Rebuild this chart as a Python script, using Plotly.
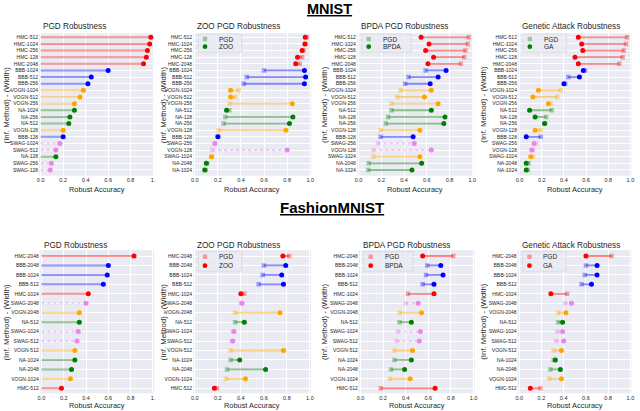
import plotly.graph_objects as go

W, H = 640, 411

# seaborn named colours used per method
method_rgb = {
    "HMC": (255, 0, 0),
    "BBB": (0, 0, 255),
    "VOGN": (255, 165, 0),
    "NA": (0, 128, 0),
    "SWAG": (238, 130, 238),
}

# ---------------- MNIST ----------------
mnist_pgd_labels = ["HMC-512", "HMC-1024", "HMC-256", "HMC-128", "HMC-2048",
                    "BBB-1024", "BBB-512", "BBB-256", "VOGN-1024", "VOGN-512",
                    "VOGN-256", "NA-1024", "NA-256", "NA-512", "VOGN-128",
                    "BBB-128", "SWAG-1024", "SWAG-512", "NA-128", "SWAG-256",
                    "SWAG-128"]
mnist_pgd_methods = ["HMC"] * 5 + ["BBB"] * 3 + ["VOGN"] * 3 + ["NA"] * 3 + \
    ["VOGN", "BBB", "SWAG", "SWAG", "NA", "SWAG", "SWAG"]
mnist_pgd_acc = [0.98, 0.97, 0.95, 0.94, 0.915, 0.60, 0.45, 0.42, 0.38, 0.35,
                 0.30, 0.30, 0.26, 0.25, 0.20, 0.20, 0.17, 0.135, 0.135, 0.095,
                 0.085]

mnist_labels = ["HMC-512", "HMC-1024", "HMC-256", "HMC-128", "HMC-2048",
                "BBB-1024", "BBB-512", "BBB-256", "VOGN-1024", "VOGN-512",
                "VOGN-256", "NA-512", "NA-128", "NA-256", "VOGN-128",
                "BBB-128", "SWAG-256", "VOGN-128", "SWAG-1024", "NA-2048",
                "NA-1024"]
mnist_methods = ["HMC"] * 5 + ["BBB"] * 3 + ["VOGN"] * 3 + ["NA"] * 3 + \
    ["VOGN", "BBB", "SWAG", "SWAG", "VOGN", "NA", "NA"]

mnist_zoo_pgd = [0.968, 0.96, 0.943, 0.93, 0.91, 0.60, 0.45, 0.424, 0.38, 0.35,
                 0.30, 0.30, 0.264, 0.25, 0.206, 0.20, 0.17, 0.15, 0.14, 0.106,
                 0.095]
mnist_zoo = [0.957, 0.954, 0.93, 0.89, 0.874, 0.95, 0.96, 0.95, 0.31, 0.31,
             0.845, 0.275, 0.85, 0.82, 0.79, 0.20, 0.175, 0.80, 0.146, 0.10,
             0.086]

mnist_bpda_pgd = [0.97, 0.96, 0.94, 0.93, 0.90, 0.59, 0.44, 0.41, 0.37, 0.34,
                  0.29, 0.29, 0.26, 0.24, 0.195, 0.195, 0.17, 0.13, 0.13, 0.09,
                  0.085]
mnist_bpda = [0.55, 0.62, 0.59, 0.66, 0.61, 0.77, 0.70, 0.63, 0.64, 0.58,
              0.70, 0.64, 0.76, 0.75, 0.54, 0.48, 0.49, 0.64, 0.54, 0.555,
              0.47]

mnist_ga_pgd = [0.97, 0.96, 0.94, 0.93, 0.90, 0.59, 0.44, 0.41, 0.37, 0.34,
                0.28, 0.29, 0.24, 0.23, 0.19, 0.19, 0.15, 0.12, 0.12, 0.08,
                0.075]
mnist_ga = [0.53, 0.56, 0.57, 0.50, 0.53, 0.575, 0.54, 0.40, 0.17, 0.12,
            0.26, 0.09, 0.14, 0.225, 0.14, 0.06, 0.13, 0.11, 0.10, 0.06, 0.06]

# ---------------- FashionMNIST ----------------
fashion_labels = ["HMC-2048", "BBB-2048", "BBB-1024", "BBB-512", "HMC-1024",
                  "SWAG-2048", "VOGN-2048", "NA-512", "SWAG-1024", "SWAG-512",
                  "VOGN-512", "NA-1024", "NA-2048", "VOGN-1024", "HMC-512"]
fashion_methods = ["HMC", "BBB", "BBB", "BBB", "HMC", "SWAG", "VOGN", "NA",
                   "SWAG", "SWAG", "VOGN", "NA", "NA", "VOGN", "HMC"]

fashion_pgd = [0.83, 0.60, 0.59, 0.555, 0.42, 0.40, 0.34, 0.34, 0.33, 0.32,
               0.30, 0.30, 0.27, 0.26, 0.18]

fashion_zoo_pgd = [0.82, 0.60, 0.59, 0.555, 0.43, 0.40, 0.35, 0.35, 0.33, 0.32,
                   0.31, 0.31, 0.28, 0.27, 0.19]
fashion_zoo = [0.765, 0.79, 0.755, 0.77, 0.40, 0.41, 0.74, 0.43, 0.34, 0.33,
               0.77, 0.39, 0.615, 0.44, 0.17]

fashion_bpda_pgd = [0.82, 0.59, 0.58, 0.55, 0.42, 0.40, 0.345, 0.345, 0.33,
                    0.32, 0.30, 0.30, 0.27, 0.26, 0.18]
fashion_bpda = [0.55, 0.71, 0.73, 0.65, 0.65, 0.51, 0.54, 0.45, 0.53, 0.52,
                0.46, 0.45, 0.39, 0.44, 0.66]

fashion_ga_pgd = [0.83, 0.60, 0.59, 0.56, 0.43, 0.41, 0.35, 0.35, 0.34, 0.33,
                  0.31, 0.31, 0.28, 0.27, 0.19]
fashion_ga = [0.60, 0.70, 0.70, 0.65, 0.285, 0.47, 0.42, 0.39, 0.39, 0.40,
              0.38, 0.325, 0.37, 0.38, 0.10]

xtick_vals = [0.0, 0.2, 0.4, 0.6, 0.8, 1.0]


def rgba(rgb, a):
    return "rgba(%d,%d,%d,%s)" % (rgb[0], rgb[1], rgb[2], a)


def px(x):
    return x / W


def py(y):
    return 1 - y / H


# panel boxes in pixels: left, right, top, bottom
TOP = (33.3, 175.7)
BOT = (250.0, 393.3)
panels = [
    dict(box=(37.3, 153.4) + TOP, title="PGD Robustness", labels=mnist_pgd_labels,
         methods=mnist_pgd_methods, pgd=mnist_pgd_acc, att=None, name=None, ytitle_x=5, last="1."),
    dict(box=(192.6, 311.8) + TOP, title="ZOO PGD Robustness", labels=mnist_labels,
         methods=mnist_methods, pgd=mnist_zoo_pgd, att=mnist_zoo, name="ZOO", ytitle_x=163, last="1.0"),
    dict(box=(357.6, 475.1) + TOP, title="BPDA PGD Robustness", labels=mnist_labels,
         methods=mnist_methods, pgd=mnist_bpda_pgd, att=mnist_bpda, name="BPDA", ytitle_x=325, last="1.0"),
    dict(box=(520.0, 634.5) + TOP, title="Genetic Attack Robustness", labels=mnist_labels,
         methods=mnist_methods, pgd=mnist_ga_pgd, att=mnist_ga, name="GA", ytitle_x=485, last="1.0"),
    dict(box=(38.0, 153.3) + BOT, title="PGD Robustness", labels=fashion_labels,
         methods=fashion_methods, pgd=fashion_pgd, att=None, name=None, ytitle_x=5, last="1."),
    dict(box=(192.6, 311.5) + BOT, title="ZOO PGD Robustness", labels=fashion_labels,
         methods=fashion_methods, pgd=fashion_zoo_pgd, att=fashion_zoo, name="ZOO", ytitle_x=163, last="1.0"),
    dict(box=(359.6, 476.4) + BOT, title="BPDA PGD Robustness", labels=fashion_labels,
         methods=fashion_methods, pgd=fashion_bpda_pgd, att=fashion_bpda, name="BPDA", ytitle_x=325, last="1.0"),
    dict(box=(519.6, 634.5) + BOT, title="Genetic Attack Robustness", labels=fashion_labels,
         methods=fashion_methods, pgd=fashion_ga_pgd, att=fashion_ga, name="GA", ytitle_x=485, last="1.0"),
]

FONT = "Liberation Sans, Arial, sans-serif"
TXT = "#262626"

fig = go.Figure()
annotations = []
shapes = []

for i, p in enumerate(panels):
    k = "" if i == 0 else str(i + 1)
    xa, ya = "x" + k, "y" + k
    left, right, top, bottom = p["box"]
    n = len(p["labels"])
    pad_top, pad_bot = (0.6, 0.86) if n > 15 else (0.635, 0.53)

    # connector lines, one trace per method
    for m in method_rgb:
        rows = [j for j in range(n) if p["methods"][j] == m]
        if not rows:
            continue
        xs, ys = [], []
        for j in rows:
            start = 0.0 if p["att"] is None else p["pgd"][j]
            end = p["pgd"][j] if p["att"] is None else p["att"][j]
            xs += [start, end, None]
            ys += [j, j, None]
        fig.add_trace(go.Scatter(
            x=xs, y=ys, xaxis=xa, yaxis=ya, mode="lines", showlegend=False,
            hoverinfo="skip",
            line=dict(color=rgba(method_rgb[m], 0.4 if p["att"] is None else 0.45),
                      width=2 if p["att"] is None else 1.8,
                      dash="dot" if m == "SWAG" else "solid")))

    if p["att"] is None:
        fig.add_trace(go.Scatter(
            x=p["pgd"], y=list(range(n)), xaxis=xa, yaxis=ya, mode="markers",
            showlegend=False,
            marker=dict(size=5, color=[rgba(method_rgb[m], 1) for m in p["methods"]])))
    else:
        fig.add_trace(go.Scatter(
            x=p["pgd"], y=list(range(n)), xaxis=xa, yaxis=ya, mode="markers",
            showlegend=False,
            marker=dict(size=4.5, symbol="square",
                        color=[rgba(method_rgb[m], 0.35) for m in p["methods"]])))
        fig.add_trace(go.Scatter(
            x=p["att"], y=list(range(n)), xaxis=xa, yaxis=ya, mode="markers",
            showlegend=False,
            marker=dict(size=5, color=[rgba(method_rgb[m], 1) for m in p["methods"]])))

        # small legend box (drawn by hand: plotly legends cannot be this compact)
        leg_rgb = method_rgb["NA"] if n > 15 else method_rgb["HMC"]
        r1, r2 = (39.0, 46.7) if n > 15 else (256.7, 265.7)
        bw = 44 if p["name"] != "BPDA" else 50
        shapes.append(dict(type="rect", xref="paper", yref="paper",
                           x0=px(left + 5), x1=px(left + 5 + bw),
                           y0=py(r2 + 5.5), y1=py(r1 - 5),
                           fillcolor="rgba(234,234,242,0.8)",
                           line=dict(color="rgba(204,204,204,0.8)", width=0.6)))
        mx = left + 12
        shapes.append(dict(type="rect", xref="paper", yref="paper",
                           x0=px(mx - 2.2), x1=px(mx + 2.2), y0=py(r1 + 2.2), y1=py(r1 - 2.2),
                           fillcolor=rgba(leg_rgb, 0.35), line=dict(width=0)))
        shapes.append(dict(type="circle", xref="paper", yref="paper",
                           x0=px(mx - 2.4), x1=px(mx + 2.4), y0=py(r2 + 2.4), y1=py(r2 - 2.4),
                           fillcolor=rgba(leg_rgb, 1), line=dict(width=0)))
        for txt, ry in (("PGD", r1), (p["name"], r2)):
            annotations.append(dict(text=txt, x=px(left + 24), y=py(ry), xref="paper",
                                    yref="paper", xanchor="left", yanchor="middle",
                                    showarrow=False, font=dict(size=6.5, color=TXT, family=FONT)))

    fig.layout["xaxis" + k] = dict(
        domain=[px(left), px(right)], anchor=ya, range=[-0.015, 1.01],
        tickvals=xtick_vals, ticktext=["0.0", "0.2", "0.4", "0.6", "0.8", p["last"]],
        showgrid=True, gridcolor="white", gridwidth=1, zeroline=False,
        showline=False, ticks="", tickfont=dict(size=5.5, color=TXT, family=FONT))
    fig.layout["yaxis" + k] = dict(
        domain=[py(bottom), py(top)], anchor=xa, range=[n - 1 + pad_bot, -pad_top],
        tickvals=list(range(n)), ticktext=p["labels"],
        showgrid=True, gridcolor="white", gridwidth=1, zeroline=False,
        showline=False, ticks="", tickfont=dict(size=5, color=TXT, family=FONT))

    title_y = 26 if n > 15 else 245
    annotations.append(dict(text=p["title"], x=px(left + 2), y=py(title_y), xref="paper",
                            yref="paper", xanchor="left", yanchor="middle", showarrow=False,
                            font=dict(size=8.2, color=TXT, family=FONT)))
    annotations.append(dict(text="Robust Accuracy", x=px((left + right) / 2),
                            y=py(189 if n > 15 else 405.5), xref="paper", yref="paper",
                            xanchor="center", yanchor="middle", showarrow=False,
                            font=dict(size=7.4, color=TXT, family=FONT)))
    annotations.append(dict(text="(Inf. Method) - (Width)", x=px(p["ytitle_x"]),
                            y=py((top + bottom) / 2), xref="paper", yref="paper",
                            xanchor="center", yanchor="middle", textangle=-90,
                            showarrow=False, font=dict(size=7.8, color=TXT, family=FONT)))

annotations.append(dict(text="<b><u>MNIST</u></b>", x=px(330), y=1, xref="paper",
                        yref="paper", xanchor="center", yanchor="top", showarrow=False,
                        borderpad=0, font=dict(size=14.5, color="black", family=FONT)))
annotations.append(dict(text="<b><u>FashionMNIST</u></b>", x=px(332.5), y=py(207.5),
                        xref="paper", yref="paper", xanchor="center", yanchor="middle",
                        showarrow=False, font=dict(size=15, color="black", family=FONT)))

fig.update_layout(
    width=W, height=H, margin=dict(l=0, r=0, t=0, b=0),
    paper_bgcolor="white", plot_bgcolor="#EAEAF2",
    showlegend=False, annotations=annotations, shapes=shapes,
    font=dict(family=FONT, color=TXT),
)

# drop the browser's default 8px body margin so the figure sits at the window's corner
fig.write_html("out.html", config={"displayModeBar": False},
               post_script="document.body.style.margin='0';")
